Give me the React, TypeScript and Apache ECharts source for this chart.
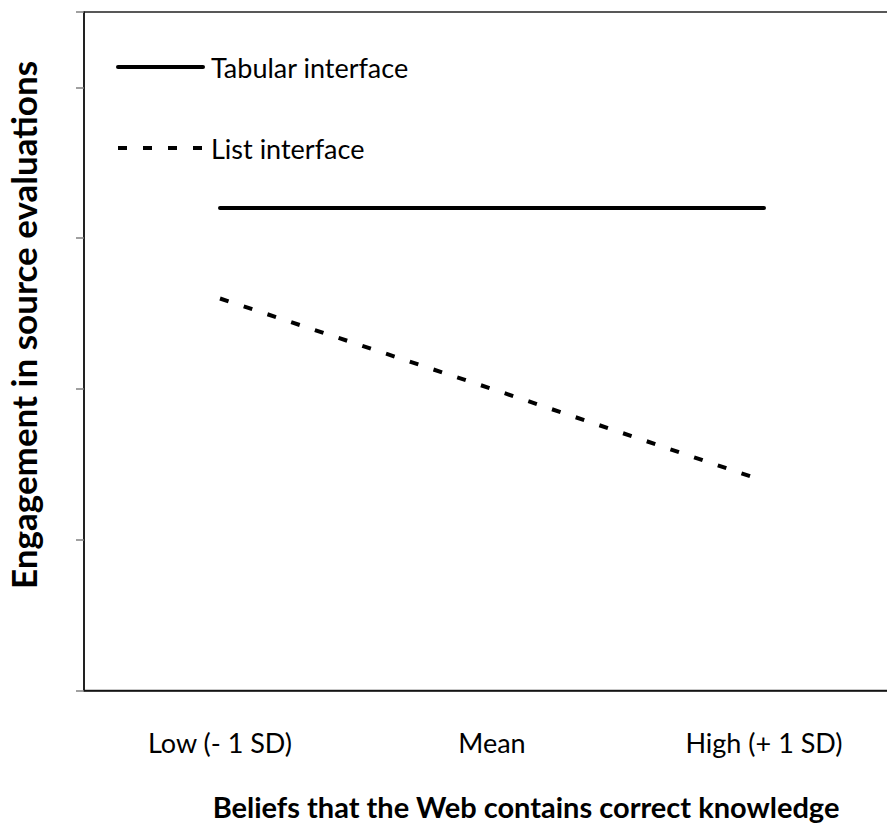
import React, { useEffect, useRef } from "react";
import * as echarts from "echarts";

const categories = ["Low (- 1 SD)", "Mean", "High (+ 1 SD)"];
const tabularValues = [3.2, 3.2, 3.2];
const listValues = [2.6, 2.0, 1.39];
const seriesNames = ["Tabular interface", "List interface"];
const xTitle = "Beliefs that the Web contains correct knowledge";
const yTitle = "Engagement in source evaluations";

const FONT = "Lato, 'Open Sans', sans-serif";

export default function App() {
  const ref = useRef<HTMLDivElement>(null);
  useEffect(() => {
    if (!ref.current) return;
    const chart = echarts.init(ref.current, null, { renderer: "svg" });
    chart.setOption({
      animation: false,
      backgroundColor: "#ffffff",
      grid: {
        left: 84,
        top: 12,
        width: 816,
        height: 678.5,
        show: true,
        borderColor: "#222222",
        borderWidth: 1.5,
        containLabel: false,
        outerBoundsMode: "none",
      },
      xAxis: {
        type: "category",
        data: categories,
        boundaryGap: true,
        axisLine: { show: true, lineStyle: { color: "#111111", width: 1.5 } },
        axisTick: { show: false },
        axisLabel: {
          color: "#000000",
          fontFamily: FONT,
          fontSize: 27,
          margin: 38,
        },
        name: xTitle,
        nameLocation: "middle",
        nameGap: 101,
        nameTextStyle: {
          color: "#000000",
          fontFamily: FONT,
          fontSize: 29,
          fontWeight: "bold",
          padding: [0, 0, 0, 68],
        },
      },
      yAxis: {
        type: "value",
        min: 0,
        max: 4.5,
        interval: 1,
        splitLine: { show: false },
        axisLine: { show: true, lineStyle: { color: "#111111", width: 1.5 } },
        axisTick: { show: true, inside: false, length: 8, lineStyle: { color: "#808080", width: 1.5 } },
        axisLabel: { show: false },
      },
      graphic: [
        {
          type: "line",
          shape: { x1: 118, y1: 67, x2: 203, y2: 67 },
          style: { stroke: "#000000", lineWidth: 4, lineCap: "round" },
        },
        {
          type: "text",
          x: 211,
          y: 67,
          style: {
            text: seriesNames[0],
            fill: "#000000",
            font: `27px ${FONT}`,
            verticalAlign: "middle",
            align: "left",
          },
        },
        {
          type: "line",
          shape: { x1: 118, y1: 148, x2: 203, y2: 148 },
          style: { stroke: "#000000", lineWidth: 4, lineDash: [9, 16] },
        },
        {
          type: "text",
          x: 211,
          y: 148,
          style: {
            text: seriesNames[1],
            fill: "#000000",
            font: `27px ${FONT}`,
            verticalAlign: "middle",
            align: "left",
          },
        },
        {
          type: "text",
          x: 23,
          y: 325,
          rotation: Math.PI / 2,
          style: {
            text: yTitle,
            fill: "#000000",
            font: `bold 35px ${FONT}`,
            verticalAlign: "middle",
            align: "center",
          },
        },
      ],
      series: [
        {
          name: seriesNames[0],
          type: "line",
          data: tabularValues,
          symbol: "none",
          lineStyle: { color: "#000000", width: 4, cap: "round" },
        },
        {
          name: seriesNames[1],
          type: "line",
          data: listValues,
          symbol: "none",
          lineStyle: { color: "#000000", width: 4, type: [9, 16] },
        },
      ],
    });
    return () => chart.dispose();
  }, []);
  return (
    <div
      ref={ref}
      style={{ position: "absolute", left: 0, top: 0, width: 887, height: 826, overflow: "hidden", background: "#fff" }}
    />
  );
}
